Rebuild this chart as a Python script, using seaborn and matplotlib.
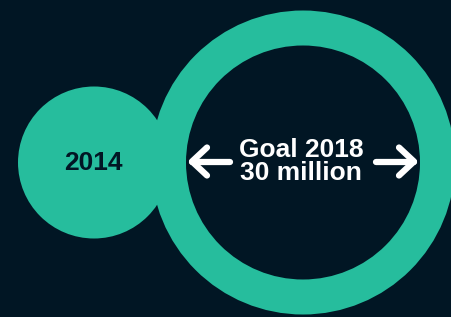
import numpy as np
import matplotlib
matplotlib.use('Agg')
import matplotlib.pyplot as plt
import seaborn as sns
from matplotlib.patches import Circle

# Data
labels = ['2014', 'Goal 2018\n30 million']
values_million = [7.5, 30]

# Colors
bg = '#011624'
teal = '#26bd9d'

sns.set_theme(style='white', rc={'figure.facecolor': bg, 'axes.facecolor': bg})
plt.rcParams['font.family'] = ['Liberation Sans', 'DejaVu Sans']

fig = plt.figure(figsize=(4.52, 3.17), dpi=100)
ax = fig.add_axes([0, 0, 1, 1])
ax.set_xlim(0, 452)
ax.set_ylim(317, 0)
ax.set_aspect('equal')
ax.axis('off')

# radius proportional to sqrt of value (area encodes value)
scale = 152 / np.sqrt(max(values_million))
radii = [scale * np.sqrt(v) for v in values_million]
cy = 162.5
small_cx = 18 + radii[0]
big_cx = small_cx + radii[0] + radii[1] - 19
ring_w = 35

# small filled circle
ax.add_patch(Circle((small_cx, cy), radii[0], color=teal, lw=0, zorder=1))
# big ring
ax.add_patch(Circle((big_cx, cy), radii[1], color=teal, lw=0, zorder=2))
ax.add_patch(Circle((big_cx, cy), radii[1] - ring_w, color=bg, lw=0, zorder=3))

ax.text(small_cx - 1, cy, labels[0], ha='center', va='center', color=bg,
        fontsize=19, fontweight='bold', zorder=4)
ax.text(big_cx - 2, cy - 1, labels[1], ha='center', va='center', color='white',
        fontsize=19, fontweight='bold', linespacing=0.95, zorder=4)

# arrows pointing to the ring
inner = radii[1] - ring_w
ay = cy - 1
for side in (-1, 1):
    tip = big_cx + side * (inner - 6)
    tail = tip - side * 38
    head = tip - side * 15
    kw = dict(color='white', lw=4.5, solid_capstyle='round',
              solid_joinstyle='round', zorder=5)
    ax.plot([tail, tip], [ay, ay], **kw)
    ax.plot([head, tip, head], [ay - 14, ay, ay + 14], **kw)

fig.savefig('out.png', dpi=100, facecolor=bg)
